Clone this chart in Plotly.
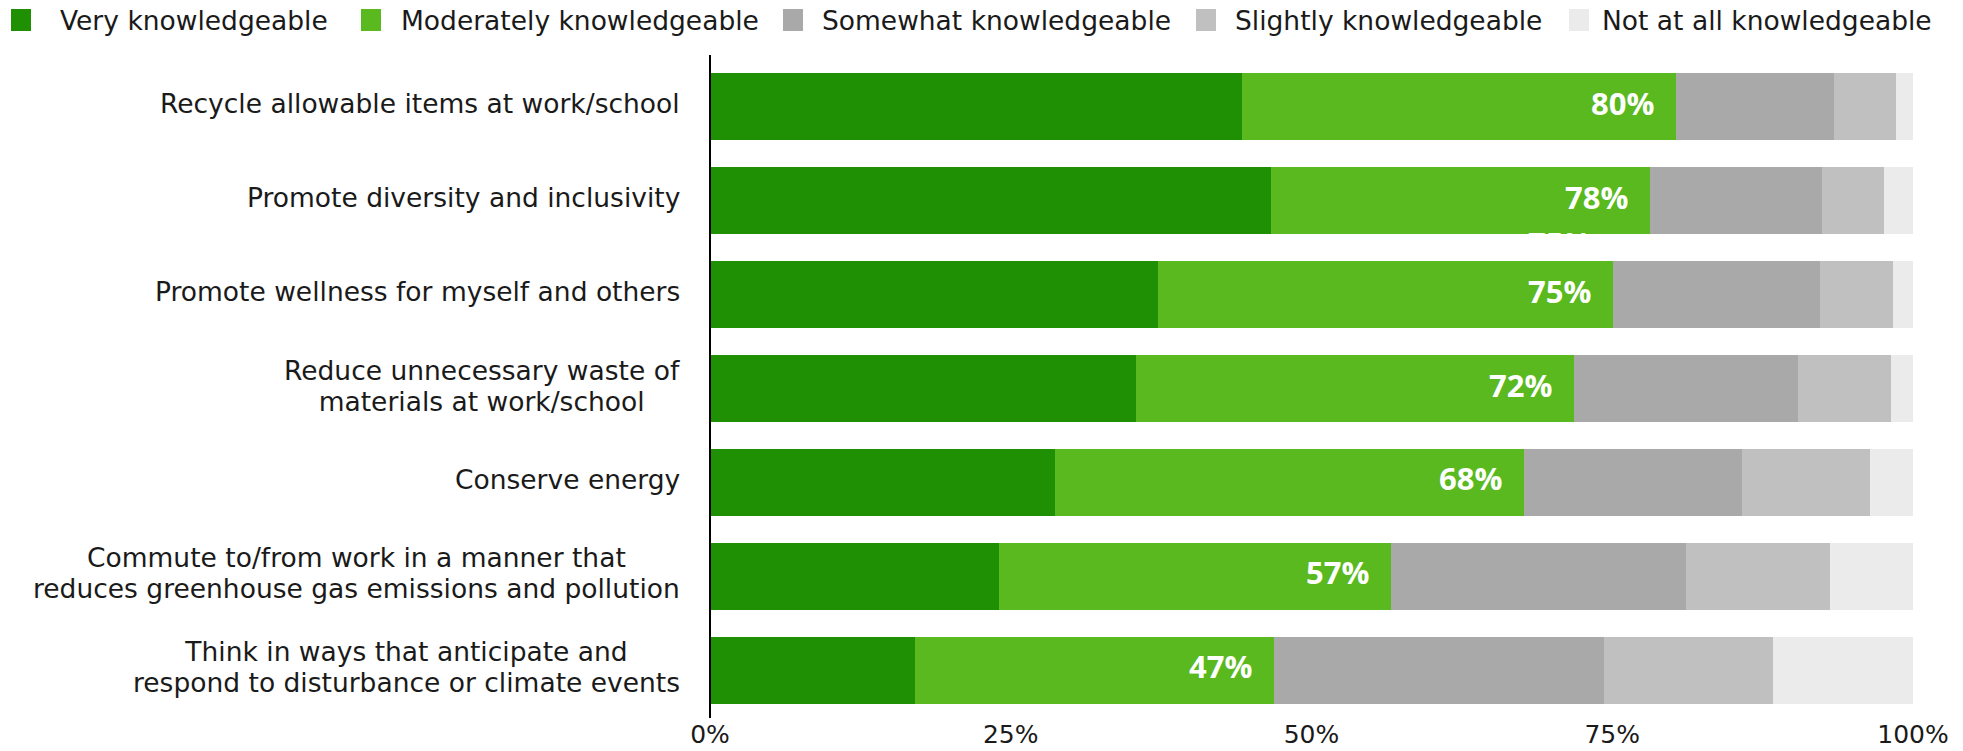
import plotly.graph_objects as go

# Survey items (top to bottom); "<br>" marks a line break in the label
categories = [
    "Recycle allowable items at work/school",
    "Promote diversity and inclusivity",
    "Promote wellness for myself and others",
    "Reduce unnecessary waste of<br>materials at work/school",
    "Conserve energy",
    "Commute to/from work in a manner that<br>reduces greenhouse gas emissions and pollution",
    "Think in ways that anticipate and<br>respond to disturbance or climate events",
]

series_names = [
    "Very knowledgeable",
    "Moderately knowledgeable",
    "Somewhat knowledgeable",
    "Slightly knowledgeable",
    "Not at all knowledgeable",
]

very_knowledgeable = [44.2, 46.6, 37.2, 35.4, 28.7, 24.0, 17.0]
moderately_knowledgeable = [36.1, 31.5, 37.9, 36.4, 39.0, 32.6, 29.9]
somewhat_knowledgeable = [13.1, 14.3, 17.2, 18.6, 18.1, 24.5, 27.4]
slightly_knowledgeable = [5.2, 5.2, 6.0, 7.8, 10.6, 12.0, 14.1]
not_at_all_knowledgeable = [1.4, 2.4, 1.7, 1.8, 3.6, 6.9, 11.6]

tick_values = [0, 25, 50, 75, 100]
tick_labels = ["0%", "25%", "50%", "75%", "100%"]

colors = ["#1f8f04", "#59b91e", "#a9a9a9", "#c0c0c0", "#ebebeb"]

TEXT_FONT = "DejaVu Sans"
NUM_FONT = "Open Sans"
TEXT_COLOR = "#1a1a1a"
LABEL_SIZE = 26.5    # glyph size of the category labels
LINE_GAP = 31        # baseline-to-baseline distance of wrapped labels, px

# Page geometry (pixels)
W, H = 1963, 751
ML, MR, MT, MB = 710, 50, 60, 34
PW = W - ML - MR
PH = H - MT - MB


def px_x(px):
    return (px - ML) / PW


def px_y(py):
    return (H - MB - py) / PH


values = [
    very_knowledgeable,
    moderately_knowledgeable,
    somewhat_knowledgeable,
    slightly_knowledgeable,
    not_at_all_knowledgeable,
]

fig = go.Figure()
for name, vals, col in zip(series_names, values, colors):
    fig.add_trace(
        go.Bar(
            y=categories,
            x=vals,
            name=name,
            orientation="h",
            marker=dict(color=col, line=dict(width=0)),
            showlegend=False,
            hoverinfo="x+name",
        )
    )

annotations = []

# Category labels: lines centred on each other, block right-aligned next to
# the axis. Line spacing follows the annotation's font size (1.3 em), so the
# annotation gets a smaller base size and each line is enlarged via its span.
sized = '<span style="font-size:%spx">{}</span>' % LABEL_SIZE
for cat in categories:
    lines = cat.split("<br>")
    annotations.append(
        dict(
            x=0, xref="paper", y=cat, yref="y", showarrow=False,
            text="<br>".join(sized.format(t) for t in lines),
            xanchor="right", yanchor="middle", align="center",
            xshift=-28, yshift=3,
            font=dict(family=TEXT_FONT, size=LINE_GAP / 1.3, color=TEXT_COLOR),
        )
    )

# Combined "very + moderately" share written inside the moderate segment
totals = [v + m for v, m in zip(very_knowledgeable, moderately_knowledgeable)]
pct_font = dict(family=NUM_FONT, size=31, color="white")
for cat, tot in zip(categories, totals):
    annotations.append(
        dict(
            x=tot, xref="x", y=cat, yref="y",
            text=f"<b>{round(tot)}%</b>", showarrow=False,
            xanchor="right", yanchor="middle",
            xshift=-20, yshift=4, font=pct_font,
        )
    )

# Stray copy of the third label sitting in the gap above its bar
annotations.append(
    dict(
        x=totals[2], xref="x", y=categories[2], yref="y",
        text=f"<b>{round(totals[2])}%</b>", showarrow=False,
        xanchor="right", yanchor="middle",
        xshift=-20, yshift=52, font=pct_font,
    )
)

# Legend row across the top
legend_square_px = [11, 361, 783, 1196, 1569]
legend_text_px = [58, 399, 820, 1233, 1600]
shapes = []
for name, col, sx, tx in zip(series_names, colors, legend_square_px, legend_text_px):
    shapes.append(
        dict(
            type="rect", xref="paper", yref="paper",
            x0=px_x(sx), x1=px_x(sx + 20),
            y0=px_y(31), y1=px_y(9),
            fillcolor=col, line=dict(width=0),
        )
    )
    annotations.append(
        dict(
            x=px_x(tx), xref="paper", y=px_y(20), yref="paper",
            text=name, showarrow=False,
            xanchor="left", yanchor="middle",
            font=dict(family=TEXT_FONT, size=26.5, color=TEXT_COLOR),
        )
    )

# Vertical baseline at 0%
shapes.append(
    dict(
        type="line", xref="paper", yref="paper",
        x0=0, x1=0, y0=px_y(718), y1=px_y(55),
        line=dict(color="black", width=2),
    )
)

fig.update_layout(
    barmode="stack",
    bargap=0.286,
    width=W,
    height=H,
    margin=dict(l=ML, r=MR, t=MT, b=MB, pad=0, autoexpand=False),
    paper_bgcolor="white",
    plot_bgcolor="white",
    showlegend=False,
    annotations=annotations,
    shapes=shapes,
    font=dict(family=TEXT_FONT, color=TEXT_COLOR),
    xaxis=dict(
        range=[0, 100],
        tickvals=tick_values,
        ticktext=tick_labels,
        showgrid=False,
        zeroline=False,
        showline=False,
        ticks="",
        automargin=False,
        ticklabelstandoff=0,
        tickfont=dict(family=TEXT_FONT, size=25, color=TEXT_COLOR),
        fixedrange=True,
    ),
    yaxis=dict(
        categoryorder="array",
        categoryarray=categories,
        autorange="reversed",
        showticklabels=False,
        showgrid=False,
        zeroline=False,
        showline=False,
        ticks="",
        automargin=False,
        fixedrange=True,
    ),
)

fig.write_html("out.html")
